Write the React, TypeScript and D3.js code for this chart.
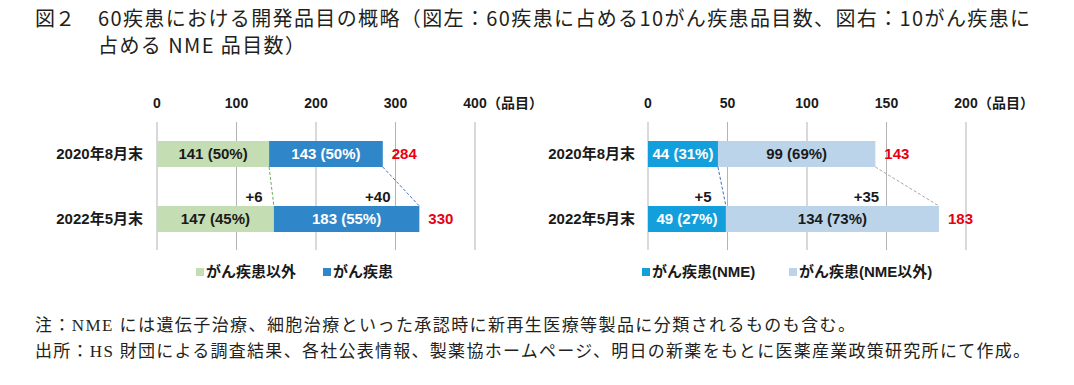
import React from "react";
import * as d3 from "d3";

const categories = ["2020年8月末", "2022年5月末"];

// Left chart: 60 diseases
const leftSeries = ["がん疾患以外", "がん疾患"];
const leftNonCancer = [141, 147];
const leftNonCancerPct = ["50%", "45%"];
const leftCancer = [143, 183];
const leftCancerPct = ["50%", "55%"];
const leftTicks = [0, 100, 200, 300, 400];
const leftDiffs = ["+6", "+40"];

// Right chart: 10 cancer diseases
const rightSeries = ["がん疾患(NME)", "がん疾患(NME以外)"];
const rightNME = [44, 49];
const rightNMEPct = ["31%", "27%"];
const rightOther = [99, 134];
const rightOtherPct = ["69%", "73%"];
const rightTicks = [0, 50, 100, 150, 200];
const rightDiffs = ["+5", "+35"];

const unitLabel = "（品目）";
const titleLine1 = "60疾患における開発品目の概略（図左：60疾患に占める10がん疾患品目数、図右：10がん疾患に";
const titleLine2 = "占める NME 品目数）";
const figLabel = "図２";
const note1 = "注：NME には遺伝子治療、細胞治療といった承認時に新再生医療等製品に分類されるものも含む。";
const note2 = "出所：HS 財団による調査結果、各社公表情報、製薬協ホームページ、明日の新薬をもとに医薬産業政策研究所にて作成。";

const SANS = "'Liberation Sans', Arial, 'Noto Sans CJK JP', sans-serif";
const TITLE_FONT = "'Noto Sans CJK JP', sans-serif";
const SERIF = "'Liberation Serif', 'Noto Sans CJK JP', serif";

type Panel = {
  x0: number;
  domainMax: number;
  ticks: number[];
  first: number[];
  firstPct: string[];
  second: number[];
  secondPct: string[];
  colors: [string, string];
  textColors: [string, string];
  dashColors: [string, string];
  diffs: string[];
  diffDx: number[];
  catRight: number;
  legend: { names: string[]; xs: number[] };
};

const barY = [141, 206];
const barH = 26;
const gridTop = 122;
const gridBottom = 250;
const tickY = 108;
const plotW = 318;

function ChartPanel({ p }: { p: Panel }) {
  const x = d3.scaleLinear().domain([0, p.domainMax]).range([p.x0, p.x0 + plotW]);
  const totals = p.first.map((v, i) => v + p.second[i]);
  const dashEnds = [p.first, totals];
  return (
    <g>
      {p.ticks.map((t) => (
        <g key={t}>
          <line x1={x(t)} x2={x(t)} y1={gridTop} y2={gridBottom} stroke="#b3b3b3" strokeWidth={1} />
          <text x={x(t)} y={tickY} textAnchor="middle" fontFamily={SANS} fontWeight="bold" fontSize={14} fill="#1a1a1a">
            {t}
          </text>
        </g>
      ))}
      <text
        x={x(p.ticks[p.ticks.length - 1]) + 12}
        y={tickY}
        fontFamily={SANS}
        fontWeight="bold"
        fontSize={14}
        fill="#1a1a1a"
      >
        {unitLabel}
      </text>
      {categories.map((c, i) => (
        <g key={c}>
          <text x={p.catRight} y={barY[i] + barH / 2 + 5} textAnchor="end" fontFamily={SANS} fontWeight="bold" fontSize={15} fill="#1a1a1a">
            {c}
          </text>
          <rect x={x(0)} y={barY[i]} width={x(p.first[i]) - x(0)} height={barH} fill={p.colors[0]} />
          <rect x={x(p.first[i])} y={barY[i]} width={x(totals[i]) - x(p.first[i])} height={barH} fill={p.colors[1]} />
          <text
            x={(x(0) + x(p.first[i])) / 2}
            y={barY[i] + barH / 2 + 5}
            textAnchor="middle"
            fontFamily={SANS}
            fontWeight="bold"
            fontSize={15}
            fill={p.textColors[0]}
          >
            {`${p.first[i]} (${p.firstPct[i]})`}
          </text>
          <text
            x={(x(p.first[i]) + x(totals[i])) / 2}
            y={barY[i] + barH / 2 + 5}
            textAnchor="middle"
            fontFamily={SANS}
            fontWeight="bold"
            fontSize={15}
            fill={p.textColors[1]}
          >
            {`${p.second[i]} (${p.secondPct[i]})`}
          </text>
          <text x={x(totals[i]) + 9} y={barY[i] + barH / 2 + 5} fontFamily={SANS} fontWeight="bold" fontSize={15} fill="#e60012">
            {totals[i]}
          </text>
        </g>
      ))}
      {dashEnds.map((arr, k) => (
        <line
          key={k}
          x1={x(arr[0])}
          y1={barY[0] + barH}
          x2={x(arr[1])}
          y2={barY[1]}
          stroke={p.dashColors[k]}
          strokeWidth={1}
          strokeDasharray="3,2"
        />
      ))}
      {p.diffs.map((d, k) => (
        <text
          key={d}
          x={x(dashEnds[k][0]) + p.diffDx[k]}
          y={barY[1] - 4}
          textAnchor="middle"
          fontFamily={SANS}
          fontWeight="bold"
          fontSize={15}
          fill="#1a1a1a"
        >
          {d}
        </text>
      ))}
      {p.legend.names.map((n, k) => (
        <g key={n}>
          <rect x={p.legend.xs[k]} y={268} width={8} height={8} fill={p.colors[k]} />
          <text x={p.legend.xs[k] + 10} y={277} fontFamily={SANS} fontWeight="bold" fontSize={15} fill="#1a1a1a">
            {n}
          </text>
        </g>
      ))}
    </g>
  );
}

export default function App() {
  const left: Panel = {
    x0: 157,
    domainMax: 400,
    ticks: leftTicks,
    first: leftNonCancer,
    firstPct: leftNonCancerPct,
    second: leftCancer,
    secondPct: leftCancerPct,
    colors: ["#c4ddb3", "#2f87c9"],
    textColors: ["#1a1a1a", "#ffffff"],
    dashColors: ["#6aac5a", "#4d6fb8"],
    diffs: leftDiffs,
    diffDx: [-15, -5],
    catRight: 143,
    legend: { names: leftSeries, xs: [196, 323] },
  };
  const right: Panel = {
    x0: 648,
    domainMax: 200,
    ticks: rightTicks,
    first: rightNME,
    firstPct: rightNMEPct,
    second: rightOther,
    secondPct: rightOtherPct,
    colors: ["#139fdb", "#bcd4ea"],
    textColors: ["#ffffff", "#1a1a1a"],
    dashColors: ["#3f6cc2", "#a8a8a8"],
    diffs: rightDiffs,
    diffDx: [-15, -9],
    catRight: 635,
    legend: { names: rightSeries, xs: [642, 789] },
  };
  return (
    <svg
      width={1074}
      height={385}
      style={{ position: "absolute", left: 0, top: 0, background: "#fff" }}
    >
      <text x={35} y={26} fontFamily={TITLE_FONT} fontSize={20} fill="#231f20">
        {figLabel}
      </text>
      <text x={98} y={26} fontFamily={TITLE_FONT} fontSize={20} fill="#231f20" textLength={932} lengthAdjust="spacing">
        {titleLine1}
      </text>
      <text x={98} y={53} fontFamily={TITLE_FONT} fontSize={20} fill="#231f20" textLength={207} lengthAdjust="spacing">
        {titleLine2}
      </text>
      <ChartPanel p={left} />
      <ChartPanel p={right} />
      <text x={35} y={331} fontFamily={SERIF} fontSize={17} fill="#231f20" textLength={820} lengthAdjust="spacing">
        {note1}
      </text>
      <text x={35} y={357} fontFamily={SERIF} fontSize={17} fill="#231f20" textLength={995} lengthAdjust="spacing">
        {note2}
      </text>
    </svg>
  );
}
